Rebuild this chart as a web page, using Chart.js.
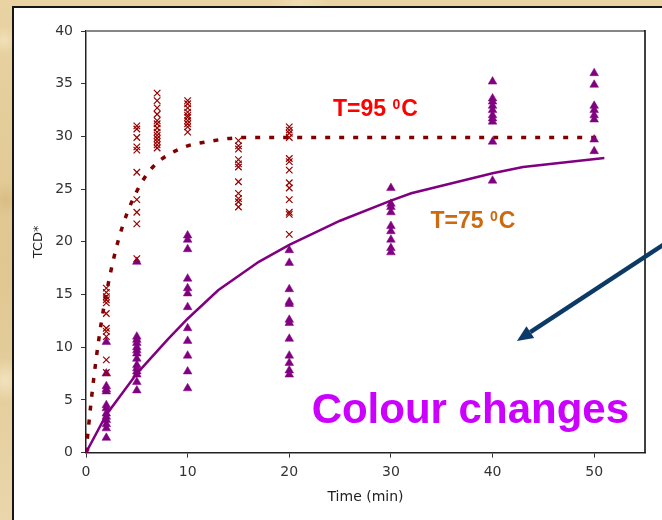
<!DOCTYPE html>
<html>
<head>
<meta charset="utf-8">
<script src="https://cdn.jsdelivr.net/npm/chart.js@4.4.1/dist/chart.umd.min.js"></script>
<style>
  html,body{margin:0;padding:0}
  body{width:662px;height:520px;overflow:hidden;position:relative;
    background:#e6cf9d;
    background-image:radial-gradient(circle at 4px 40px,#f1e0b8 0,transparent 14px),
      radial-gradient(circle at 6px 200px,#d9bd85 0,transparent 18px),
      radial-gradient(circle at 300px 2px,#f0ddb2 0,transparent 30px),
      radial-gradient(circle at 5px 380px,#f2e2bd 0,transparent 22px),
      linear-gradient(180deg,#e9d3a3,#e0c690 50%,#ead6aa);}
  #box{position:absolute;left:12px;top:6px;width:660px;height:530px;background:#fff;
    border-left:2px solid #151515;border-top:2px solid #151515}
  #c{position:absolute;left:0;top:0}
</style>
</head>
<body>
<div id="box"></div>
<canvas id="c" width="662" height="520"></canvas>
<script>
'use strict';
// ══ TCD* vs time — measured points + fitted curves ══
const x95=[0,2,5,7,10,15,20];
const y95=[
  [0],
  [15.6,15.2,14.8,14.5,14.2,13.2,11.8,11.5,11.0,8.8,7.6],
  [31.0,30.7,29.9,29.0,28.7,26.6,24.0,22.8,21.7,18.4],
  [34.1,33.4,32.7,32.1,31.5,31.2,30.8,30.4,30.1,29.8,29.5,29.2,28.9],
  [33.4,33.1,32.7,32.3,32.0,31.8,31.5,31.2,30.9,30.4],
  [29.6,29.1,28.8,27.8,27.4,27.1,25.7,24.6,24.1,23.8,23.3],
  [30.9,30.6,30.3,29.9,27.9,27.6,26.8,25.6,25.1,24.0,22.8,22.6,20.7]
];
const x75=[0,2,5,10,20,30,40,50];
const y75=[
  [0],
  [10.5,7.5,6.3,6.0,5.8,4.5,4.2,3.7,3.4,3.1,2.7,2.3,1.4],
  [18.1,11.0,10.7,10.4,10.0,9.7,9.4,8.9,8.3,8.0,7.7,7.4,6.7,5.9],
  [20.6,20.2,19.3,16.5,15.6,15.1,13.8,11.8,10.6,9.2,7.7,6.1],
  [19.2,18.0,15.5,14.3,14.1,12.6,12.3,10.8,9.2,8.5,7.8,7.4],
  [25.1,23.6,23.3,22.8,21.5,21.0,20.2,19.4,19.0],
  [35.2,33.6,33.3,32.9,32.5,32.0,31.7,31.4,29.5,25.8],
  [36.0,34.9,32.9,32.5,32.0,31.6,29.7,28.6]
];
// fitted curves
const fit95X=[0,0.5,1,1.5,2,3,4,5,6,7,8,10,12,14,16,20,30,40,51];
const fit95Y=[0,4.8,8.9,12.3,15.1,19.5,22.6,24.8,26.4,27.5,28.2,29.1,29.5,29.8,29.9,29.9,29.9,29.9,29.9];
const fit75X=[0,2,5,8,10,13,17,20,25,30,32,40,43,51];
const fit75Y=[0,3.6,7.5,10.7,12.7,15.4,18.1,19.7,22.0,23.9,24.6,26.5,27.1,27.95];
const xTicks=[0,10,20,30,40,50];

const pts=(xs,ys)=>xs.flatMap((x,i)=>ys[i].map(y=>({x,y})));
const line=(xs,ys)=>xs.map((x,i)=>({x,y:ys[i]}));
const TXT='"DejaVu Sans", Verdana, sans-serif';
const BOLD='"Liberation Sans", Arial, sans-serif';

// labels with raised small "0" before C
function degLabel(ctx,x,y,pre,color){
  ctx.fillStyle=color;ctx.textBaseline='alphabetic';ctx.textAlign='left';
  ctx.font='bold 23px '+BOLD;ctx.fillText(pre,x,y);
  let w=ctx.measureText(pre).width;
  ctx.font='bold 14px '+BOLD;ctx.fillText('0',x+w,y-7);
  w+=ctx.measureText('0').width+1;
  ctx.font='bold 23px '+BOLD;ctx.fillText('C',x+w,y);
}

const decor={
  id:'decor',
  afterDraw(chart){
    const {ctx,chartArea:a,scales:{x:xs,y:ys}}=chart;
    ctx.save();
    // plot frame: grey top, black right
    ctx.lineWidth=2;ctx.strokeStyle='#858585';
    ctx.beginPath();ctx.moveTo(a.left,a.top);ctx.lineTo(a.right,a.top);ctx.stroke();
    ctx.lineWidth=1.6;ctx.strokeStyle='#111';
    ctx.beginPath();ctx.moveTo(a.right,a.top-1);ctx.lineTo(a.right,a.bottom);ctx.stroke();
    // annotations
    degLabel(ctx,xs.getPixelForValue(24.3),ys.getPixelForValue(31.9),'T=95 ','#ff0000');
    degLabel(ctx,xs.getPixelForValue(33.9),ys.getPixelForValue(21.3),'T=75 ','#cc6a10');
    ctx.font='bold 42px '+BOLD;ctx.fillStyle='#cc00ff';
    ctx.fillText('Colour changes',xs.getPixelForValue(22.2),ys.getPixelForValue(2.8));
    // arrow
    const tx=xs.getPixelForValue(42.4),ty=ys.getPixelForValue(10.6);
    const sx=666,sy=243;
    const ang=Math.atan2(ty-sy,tx-sx),L=16,W=7;
    const bx=tx-Math.cos(ang)*L,by=ty-Math.sin(ang)*L;
    ctx.strokeStyle='#0c3a66';ctx.fillStyle='#0c3a66';ctx.lineWidth=4.5;
    ctx.beginPath();ctx.moveTo(sx,sy);ctx.lineTo(bx,by);ctx.stroke();
    ctx.beginPath();ctx.moveTo(tx,ty);
    ctx.lineTo(bx+Math.sin(ang)*W,by-Math.cos(ang)*W);
    ctx.lineTo(bx-Math.sin(ang)*W,by+Math.cos(ang)*W);
    ctx.closePath();ctx.fill();
    ctx.restore();
  }
};

new Chart(document.getElementById('c'),{
  type:'scatter',
  data:{datasets:[
    {label:'T=95',data:pts(x95,y95),pointStyle:'crossRot',pointRadius:4.6,borderColor:'#990000',pointBorderWidth:1.2,backgroundColor:'#990000'},
    {label:'T=75',data:pts(x75,y75),pointStyle:'triangle',pointRadius:5,borderColor:'#800080',pointBorderWidth:0.5,backgroundColor:'#800080'},
    {label:'fit95',data:line(fit95X,fit95Y),showLine:true,pointRadius:0,borderColor:'#800000',borderWidth:3.5,borderDash:[5,9],cubicInterpolationMode:'monotone'},
    {label:'fit75',data:line(fit75X,fit75Y),showLine:true,pointRadius:0,borderColor:'#800080',borderWidth:2.5,tension:0}
  ]},
  options:{
    responsive:false,animation:false,
    layout:{padding:{left:30,top:31,right:17,bottom:0}},
    plugins:{legend:{display:false},tooltip:{enabled:false}},
    scales:{
      x:{type:'linear',min:0,max:55,
        afterBuildTicks:s=>{s.ticks=xTicks.map(v=>({value:v}))},
        afterFit:s=>{s.height=67.4},
        grid:{drawOnChartArea:false,tickLength:5,color:'#333'},
        border:{color:'#222',width:1.5},
        ticks:{font:{family:TXT,size:14},color:'#333',padding:6,maxRotation:0},
        title:{display:true,text:'Time (min)',font:{family:TXT,size:14},color:'#222',padding:{top:0,bottom:14}}
      },
      y:{min:0,max:40,
        afterFit:s=>{s.width=56},
        grid:{drawOnChartArea:false,tickLength:5,color:'#333'},
        border:{color:'#222',width:1.5},
        ticks:{stepSize:5,font:{family:TXT,size:14},color:'#333',padding:8},
        title:{display:true,text:'TCD*',font:{family:TXT,size:13},color:'#222',padding:{top:1,bottom:0}}
      }
    }
  },
  plugins:[decor]
});
</script>
</body>
</html>
